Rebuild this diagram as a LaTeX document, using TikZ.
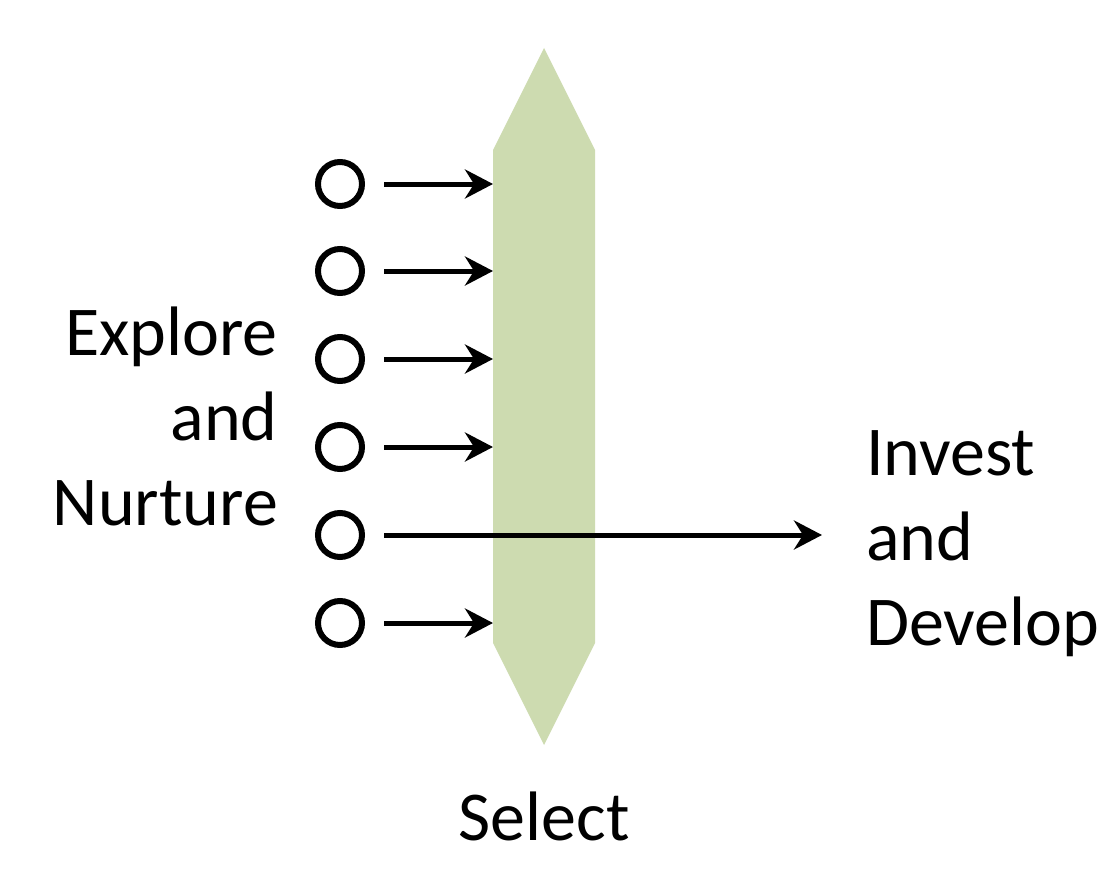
\documentclass[tikz,border=0pt]{standalone}
\usepackage{fontspec}
\setmainfont{Carlito}
\usetikzlibrary{arrows.meta}
\begin{document}
\begin{tikzpicture}[x=1pt,y=-1pt,
  idea/.style={circle,draw,line width=6pt,minimum size=44pt,inner sep=0pt},
  arr/.style={line width=5pt,-{Stealth[length=28pt,width=29pt,inset=9pt]}},
  lbl/.style={font=\fontsize{70}{85}\selectfont,inner sep=0pt}]
\useasboundingbox (0,0) rectangle (1116,880);
\fill[fill={rgb,255:red,205;green,219;blue,176}] (544,48) -- (595,150) -- (595,643) -- (544,745) -- (493,643) -- (493,150) -- cycle;
\coordinate (bandleft) at (493,400);
\coordinate (goal) at (822,535);
\foreach \i/\y in {1/184,2/271,3/359,4/447,5/535,6/623}{
  \node[idea] (c\i) at (340,\y) {};
}
\foreach \i in {1,2,3,4,6}{
  \draw[arr] ([xshift=19pt]c\i.east) -- (c\i.east -| bandleft);
}
\draw[arr] ([xshift=19pt]c5.east) -- (goal);
\node[lbl,anchor=base east,align=right] (explore) at (278,525) {Explore\\and\\Nurture};
\node[lbl,anchor=base west,align=left] (invest) at (866,645) {Invest\\and\\Develop};
\node[lbl,anchor=base] (select) at (544,840) {Select};
\end{tikzpicture}
\end{document}
